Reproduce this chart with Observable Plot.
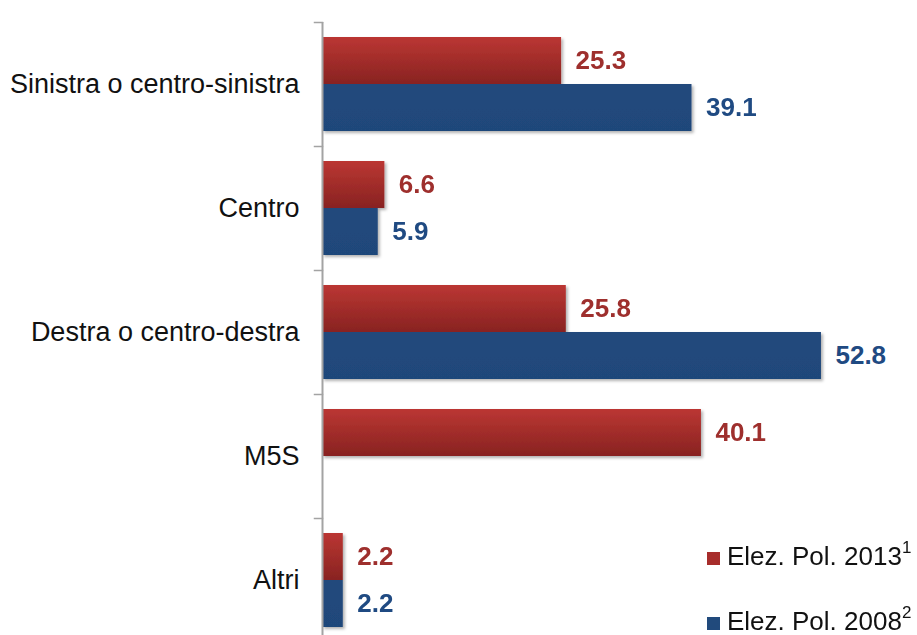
<!DOCTYPE html>
<html>
<head>
<meta charset="utf-8">
<script src="https://cdn.jsdelivr.net/npm/d3@7"></script>
<script src="https://cdn.jsdelivr.net/npm/@observablehq/plot@0.6"></script>
<style>
  html, body { margin: 0; padding: 0; background: #fff; overflow: hidden; }
  #wrap { position: relative; width: 917px; height: 635px; font-family: "Liberation Sans", Arial, sans-serif; }
  .lg-row { position: absolute; left: 707px; height: 30px; line-height: 30px; font-size: 26px; color: #111; white-space: nowrap; }
  .lg-sw { position: absolute; left: 0; top: 11px; width: 13px; height: 13px; }
  .lg-tx { position: absolute; left: 20px; top: 0; }
  .lg-tx sup { font-size: 17px; position: relative; top: -2px; vertical-align: super; line-height: 0; }
</style>
</head>
<body>
<div id="wrap"></div>
<script>
const categories = ["Sinistra o centro-sinistra", "Centro", "Destra o centro-destra", "M5S", "Altri"];
const series = ["2013", "2008"];
const values2013 = [25.3, 6.6, 25.8, 40.1, 2.2];
const values2008 = [39.1, 5.9, 52.8, null, 2.2];
const legendLabels = ["Elez. Pol. 2013", "Elez. Pol. 2008"];
const legendNotes = ["1", "2"];

const seriesValues = {"2013": values2013, "2008": values2008};
const textColors = {"2013": "#9e2f2d", "2008": "#1f4a82"};
const swatchColors = {"2013": "#a72d2b", "2008": "#214a7c"};

const data = series.flatMap(s => categories.map((c, i) => ({category: c, series: s, value: seriesValues[s][i]})))
  .filter(d => d.value != null);

const W = 917, H = 643, ML = 322, MR = 28;
const plotWidth = W - ML - MR;

const chart = Plot.plot({
  width: W,
  height: H,
  marginLeft: ML,
  marginRight: MR,
  marginTop: 20,
  marginBottom: 0,
  style: {fontFamily: "'Liberation Sans', Arial, sans-serif", background: "white", color: "#111"},
  x: {domain: [0, 60], axis: null},
  y: {domain: series, axis: null, paddingInner: 0, paddingOuter: 0.3},
  fy: {domain: categories, padding: 0, axis: null},
  color: {domain: series, range: ["url(#grad2013)", "url(#grad2008)"]},
  marks: [
    Plot.barX(data, {x: "value", y: "series", fy: "category", fill: "series"}),
    Plot.ruleX([0], {stroke: "#a3a3a3", strokeWidth: 2}),
    Plot.frame({anchor: "top", insetLeft: -8, insetRight: plotWidth, stroke: "#a3a3a3", strokeWidth: 1.5}),
    Plot.axisFy({anchor: "left", tickSize: 0, tickPadding: 23, fontSize: 27, fill: "#111", label: null}),
    ...series.map(s => Plot.text(data.filter(d => d.series === s), {
      x: "value", y: "series", fy: "category",
      text: d => d.value.toFixed(1),
      textAnchor: "start", dx: 14,
      fill: textColors[s], fontWeight: "bold", fontSize: 26
    }))
  ]
});

// gradients + shadow
const NS = "http://www.w3.org/2000/svg";
const defs = document.createElementNS(NS, "defs");
defs.innerHTML = `
  <linearGradient id="grad2013" x1="0" y1="0" x2="0" y2="1">
    <stop offset="0" stop-color="#bb3633"/>
    <stop offset="1" stop-color="#882321"/>
  </linearGradient>
  <linearGradient id="grad2008" x1="0" y1="0" x2="0" y2="1">
    <stop offset="0" stop-color="#22497c"/>
    <stop offset="1" stop-color="#1f477a"/>
  </linearGradient>
  <filter id="shadow" x="-5%" y="-10%" width="115%" height="130%">
    <feDropShadow dx="2" dy="2" stdDeviation="1.5" flood-color="#000" flood-opacity="0.3"/>
  </filter>`;
chart.insertBefore(defs, chart.firstChild);
chart.querySelectorAll('g[aria-label="bar"]').forEach(g => g.setAttribute("filter", "url(#shadow)"));

const wrap = document.getElementById("wrap");
wrap.appendChild(chart);

// legend
const tops = [541, 606];
series.forEach((s, i) => {
  const row = document.createElement("div");
  row.className = "lg-row";
  row.style.top = tops[i] + "px";
  const sw = document.createElement("div");
  sw.className = "lg-sw";
  sw.style.background = swatchColors[s];
  const tx = document.createElement("div");
  tx.className = "lg-tx";
  tx.textContent = legendLabels[i];
  const sup = document.createElement("sup");
  sup.textContent = legendNotes[i];
  tx.appendChild(sup);
  row.appendChild(sw);
  row.appendChild(tx);
  wrap.appendChild(row);
});
</script>
</body>
</html>
